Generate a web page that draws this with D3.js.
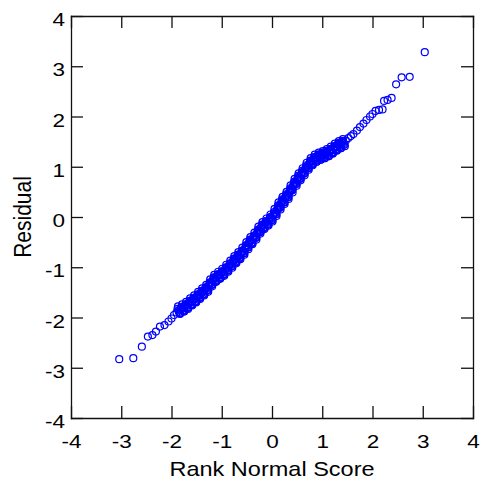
<!DOCTYPE html>
<html>
<head>
<meta charset="utf-8">
<script src="https://cdn.jsdelivr.net/npm/d3@7"></script>
<style>
  body { margin: 0; background: #fff; }
  svg { display: block; font-family: "Liberation Sans", Arial, sans-serif; }
</style>
</head>
<body>
<div id="chart"></div>
<script>
// Rank normal score (x) and residual (y)
const rankScore = [
  -3.04, -2.76, -2.59, -2.47, -2.38, -2.31, -2.23, -2.14, -2.06, -2.00, -1.95, -1.90,
  -1.86, -1.82, -1.78, -1.74, -1.70, -1.66, -1.62, -1.58, -1.54, -1.50, -1.46, -1.42,
  -1.38, -1.34, -1.30, -1.26, -1.22, -1.18, -1.14, -1.10, -1.06, -1.02, -0.98, -0.94,
  -0.90, -0.86, -0.82, -0.78, -0.74, -0.70, -0.66, -0.62, -0.58, -0.54, -0.50, -0.46,
  -0.42, -0.38, -0.34, -0.30, -0.26, -0.22, -0.18, -0.14, -0.10, -0.06, -0.02, 0.02,
  0.06, 0.10, 0.14, 0.18, 0.22, 0.26, 0.30, 0.34, 0.38, 0.42, 0.46, 0.50,
  0.54, 0.58, 0.62, 0.66, 0.70, 0.74, 0.78, 0.82, 0.86, 0.90, 0.94, 0.98,
  1.02, 1.06, 1.10, 1.14, 1.18, 1.22, 1.26, 1.30, 1.34, 1.38, 1.42,
  1.47, 1.52, 1.57, 1.62, 1.69, 1.75, 1.82, 1.88, 1.95, 2.00, 2.06, 2.13,
  2.20, 2.23, 2.30, 2.38, 2.47, 2.58, 2.74, 3.04,
  -1.88, -1.84, -1.80, -1.76, -1.72, -1.68, -1.64, -1.60, -1.56, -1.52, -1.48, -1.44,
  -1.40, -1.36, -1.32, -1.28, -1.24, -1.20, -1.16, -1.12, -1.08, -1.04, -1.00, -0.96,
  -0.92, -0.88, -0.84, -0.80, -0.76, -0.72, -0.68, -0.64, -0.60, -0.56, -0.52, -0.48,
  -0.44, -0.40, -0.36, -0.32, -0.28, -0.24, -0.20, -0.16, -0.12, -0.08, -0.04, 0.00,
  0.04, 0.08, 0.12, 0.16, 0.20, 0.24, 0.28, 0.32, 0.36, 0.40, 0.44, 0.48,
  0.52, 0.56, 0.60, 0.64, 0.68, 0.72, 0.76, 0.80, 0.84, 0.88, 0.92, 0.96,
  1.00, 1.04, 1.08, 1.12, 1.16, 1.20, 1.24, 1.28, 1.32, 1.36, 1.40, 1.44,
  -1.87, -1.83, -1.79, -1.75, -1.71, -1.67, -1.63, -1.59, -1.55, -1.51, -1.47, -1.43,
  -1.39, -1.35, -1.31, -1.27, -1.23, -1.19, -1.15, -1.11, -1.07, -1.03, -0.99, -0.95,
  -0.91, -0.87, -0.83, -0.79, -0.75, -0.71, -0.67, -0.63, -0.59, -0.55, -0.51, -0.47,
  -0.43, -0.39, -0.35, -0.31, -0.27, -0.23, -0.19, -0.15, -0.11, -0.07, -0.03, 0.01,
  0.05, 0.09, 0.13, 0.17, 0.21, 0.25, 0.29, 0.33, 0.37, 0.41, 0.45, 0.49,
  0.53, 0.57, 0.61, 0.65, 0.69, 0.73, 0.77, 0.81, 0.85, 0.89, 0.93, 0.97,
  1.01, 1.05, 1.09, 1.13, 1.17, 1.21, 1.25, 1.29, 1.33, 1.37, 1.41,
  -1.85, -1.81, -1.77, -1.73, -1.69, -1.65, -1.61, -1.57, -1.53, -1.49, -1.45, -1.41,
  -1.37, -1.33, -1.29, -1.25, -1.21, -1.17, -1.13, -1.09, -1.05, -1.01, -0.97, -0.93,
  -0.89, -0.85, -0.81, -0.77, -0.73, -0.69, -0.65, -0.61, -0.57, -0.53, -0.49, -0.45,
  -0.41, -0.37, -0.33, -0.29, -0.25, -0.21, -0.17, -0.13, -0.09, -0.05, -0.01, 0.03,
  0.07, 0.11, 0.15, 0.19, 0.23, 0.27, 0.31, 0.35, 0.39, 0.43, 0.47, 0.51,
  0.55, 0.59, 0.63, 0.67, 0.71, 0.75, 0.79, 0.83, 0.87, 0.91, 0.95, 0.99,
  1.03, 1.07, 1.11, 1.15, 1.19, 1.23, 1.27, 1.31, 1.35, 1.39, 1.43,
  -1.83, -1.79, -1.75, -1.71, -1.67, -1.63, -1.59, -1.55, -1.51, -1.47, -1.43, -1.39,
  -1.35, -1.31, -1.27, -1.23, -1.19, -1.15, -1.11, -1.07, -1.03, -0.99, -0.95, -0.91,
  -0.87, -0.83, -0.79, -0.75, -0.71, -0.67, -0.63, -0.59, -0.55, -0.51, -0.47, -0.43,
  -0.39, -0.35, -0.31, -0.27, -0.23, -0.19, -0.15, -0.11, -0.07, -0.03, 0.01, 0.05,
  0.09, 0.13, 0.17, 0.21, 0.25, 0.29, 0.33, 0.37, 0.41, 0.45, 0.49, 0.53,
  0.57, 0.61, 0.65, 0.69, 0.73, 0.77, 0.81, 0.85, 0.89, 0.93, 0.97, 1.01,
  1.05, 1.09, 1.13, 1.17, 1.21, 1.25, 1.29, 1.33, 1.37, 1.41, 1.45
];
const residual = [
  -2.83, -2.81, -2.58, -2.38, -2.35, -2.28, -2.18, -2.15, -2.08, -2.02, -1.95, -1.90,
  -1.86, -1.85, -1.82, -1.80, -1.77, -1.73, -1.70, -1.67, -1.64, -1.61, -1.57, -1.53,
  -1.50, -1.46, -1.43, -1.38, -1.32, -1.27, -1.23, -1.20, -1.17, -1.14, -1.11, -1.07,
  -1.03, -0.99, -0.95, -0.90, -0.86, -0.82, -0.78, -0.74, -0.69, -0.64, -0.58, -0.52,
  -0.48, -0.44, -0.39, -0.33, -0.27, -0.22, -0.18, -0.14, -0.11, -0.07, -0.03, 0.02,
  0.08, 0.14, 0.21, 0.27, 0.32, 0.37, 0.42, 0.48, 0.55, 0.62, 0.68, 0.74,
  0.79, 0.84, 0.89, 0.95, 1.00, 1.05, 1.09, 1.13, 1.16, 1.18, 1.20, 1.22,
  1.23, 1.25, 1.27, 1.29, 1.32, 1.35, 1.38, 1.41, 1.43, 1.45, 1.47,
  1.52, 1.57, 1.61, 1.65, 1.72, 1.79, 1.86, 1.93, 2.00, 2.05, 2.11, 2.13,
  2.14, 2.31, 2.33, 2.37, 2.64, 2.78, 2.79, 3.28,
  -1.83, -1.91, -1.79, -1.86, -1.74, -1.80, -1.67, -1.74, -1.61, -1.68, -1.54, -1.60,
  -1.47, -1.53, -1.40, -1.46, -1.30, -1.35, -1.20, -1.27, -1.14, -1.21, -1.08, -1.14,
  -1.00, -1.06, -0.92, -0.98, -0.83, -0.89, -0.75, -0.81, -0.67, -0.72, -0.56, -0.60,
  -0.45, -0.51, -0.37, -0.41, -0.25, -0.30, -0.15, -0.21, -0.08, -0.14, 0.00, -0.06,
  0.10, 0.06, 0.23, 0.19, 0.35, 0.30, 0.45, 0.40, 0.57, 0.54, 0.70, 0.66,
  0.82, 0.77, 0.92, 0.87, 1.03, 0.98, 1.12, 1.06, 1.19, 1.12, 1.24, 1.16,
  1.27, 1.19, 1.31, 1.23, 1.35, 1.28, 1.41, 1.35, 1.47, 1.39, 1.51, 1.44,
  -1.78, -1.93, -1.74, -1.88, -1.69, -1.81, -1.62, -1.75, -1.56, -1.69, -1.49, -1.61,
  -1.42, -1.54, -1.35, -1.46, -1.24, -1.35, -1.15, -1.28, -1.09, -1.22, -1.03, -1.15,
  -0.95, -1.07, -0.87, -0.98, -0.78, -0.90, -0.70, -0.82, -0.61, -0.72, -0.50, -0.60,
  -0.40, -0.52, -0.31, -0.41, -0.19, -0.30, -0.10, -0.22, -0.03, -0.15, 0.05, -0.06,
  0.16, 0.06, 0.29, 0.19, 0.40, 0.29, 0.50, 0.40, 0.63, 0.54, 0.76, 0.66,
  0.87, 0.76, 0.97, 0.87, 1.08, 0.97, 1.17, 1.05, 1.24, 1.10, 1.28, 1.14,
  1.31, 1.17, 1.35, 1.21, 1.40, 1.27, 1.46, 1.33, 1.51, 1.37, 1.55,
  -1.89, -1.82, -1.85, -1.77, -1.80, -1.70, -1.73, -1.64, -1.67, -1.58, -1.60, -1.50,
  -1.53, -1.43, -1.46, -1.35, -1.35, -1.24, -1.26, -1.17, -1.20, -1.11, -1.14, -1.04,
  -1.06, -0.96, -0.98, -0.87, -0.89, -0.79, -0.81, -0.71, -0.72, -0.61, -0.61, -0.49,
  -0.51, -0.41, -0.42, -0.30, -0.30, -0.19, -0.21, -0.11, -0.14, -0.04, -0.06, 0.05,
  0.05, 0.17, 0.18, 0.30, 0.29, 0.40, 0.39, 0.51, 0.52, 0.65, 0.65, 0.77,
  0.76, 0.87, 0.86, 0.98, 0.97, 1.08, 1.06, 1.16, 1.13, 1.21, 1.17, 1.25,
  1.20, 1.28, 1.24, 1.32, 1.29, 1.38, 1.35, 1.44, 1.40, 1.48, 1.44,
  -1.92, -1.79, -1.88, -1.74, -1.83, -1.67, -1.76, -1.61, -1.70, -1.55, -1.63, -1.47,
  -1.56, -1.40, -1.49, -1.32, -1.38, -1.21, -1.29, -1.14, -1.23, -1.08, -1.17, -1.01,
  -1.09, -0.93, -1.01, -0.84, -0.92, -0.76, -0.84, -0.68, -0.75, -0.58, -0.64, -0.46,
  -0.54, -0.38, -0.45, -0.27, -0.33, -0.16, -0.24, -0.08, -0.17, -0.01, -0.09, 0.08,
  0.02, 0.20, 0.15, 0.33, 0.26, 0.43, 0.36, 0.54, 0.49, 0.68, 0.62, 0.80,
  0.73, 0.90, 0.83, 1.01, 0.94, 1.11, 1.03, 1.19, 1.10, 1.24, 1.14, 1.28,
  1.17, 1.31, 1.21, 1.35, 1.26, 1.41, 1.32, 1.47, 1.37, 1.51, 1.41
];
const tickValues = [-4, -3, -2, -1, 0, 1, 2, 3, 4];

if (rankScore.length !== residual.length) console.error("length mismatch", rankScore.length, residual.length);

const width = 481;
const height = 485;
const margin = { top: 16, right: 8, bottom: 67, left: 71 };

const data = rankScore.map((x, i) => ({ x, y: residual[i] }));

const svg = d3.select("#chart")
  .append("svg")
  .attr("width", width)
  .attr("height", height);

const xScale = d3.scaleLinear().domain([-4, 4]).range([margin.left, width - margin.right]);
const yScale = d3.scaleLinear().domain([-4, 4]).range([height - margin.bottom, margin.top]);

const x0 = xScale.range()[0], x1 = xScale.range()[1];
const y0 = yScale.range()[0], y1 = yScale.range()[1];

const fmt = d => String(d);

// axes with inward ticks
const styleAxis = g => {
  g.selectAll("path, line").attr("stroke", "#111").attr("stroke-width", 1.3);
};

svg.append("g")
  .attr("transform", `translate(0,${y0})`)
  .call(d3.axisBottom(xScale).tickValues(tickValues).tickSizeInner(-12).tickSizeOuter(0).tickFormat(fmt))
  .call(styleAxis)
  .call(g => g.selectAll("text")
    .attr("y", 0).attr("dy", null)
    .attr("transform", "translate(0,30) scale(1.25,1)")
    .attr("fill", "#000")
    .style("font-size", "18px"));

svg.append("g")
  .attr("transform", `translate(${x0},0)`)
  .call(d3.axisLeft(yScale).tickValues(tickValues).tickSizeInner(-12).tickSizeOuter(0).tickFormat(fmt))
  .call(styleAxis)
  .call(g => g.selectAll("text")
    .attr("x", 0).attr("dy", null)
    .attr("transform", "translate(-6,9.5) scale(1.25,1)")
    .attr("fill", "#000")
    .style("font-size", "18px"));

svg.append("g")
  .attr("transform", `translate(0,${y1})`)
  .call(d3.axisTop(xScale).tickValues(tickValues).tickSizeInner(-12).tickSizeOuter(0).tickFormat(""))
  .call(styleAxis);

svg.append("g")
  .attr("transform", `translate(${x1},0)`)
  .call(d3.axisRight(yScale).tickValues(tickValues).tickSizeInner(-12).tickSizeOuter(0).tickFormat(""))
  .call(styleAxis);

svg.selectAll(".domain").attr("stroke-linecap", "square");

// axis titles
svg.append("text")
  .attr("transform", `translate(${(x0 + x1) / 2},476) scale(1.12,1)`)
  .attr("text-anchor", "middle")
  .style("font-size", "21px")
  .text("Rank Normal Score");

svg.append("text")
  .attr("transform", `translate(31,${(y0 + y1) / 2}) scale(1.12,1) rotate(-90)`)
  .attr("text-anchor", "middle")
  .style("font-size", "21px")
  .text("Residual");

// points
svg.append("g")
  .selectAll("circle")
  .data(data)
  .join("circle")
  .attr("cx", d => xScale(d.x))
  .attr("cy", d => yScale(d.y))
  .attr("r", 3.5)
  .attr("fill", "none")
  .attr("stroke", "#0000ff")
  .attr("stroke-width", 1.2);
</script>
</body>
</html>
